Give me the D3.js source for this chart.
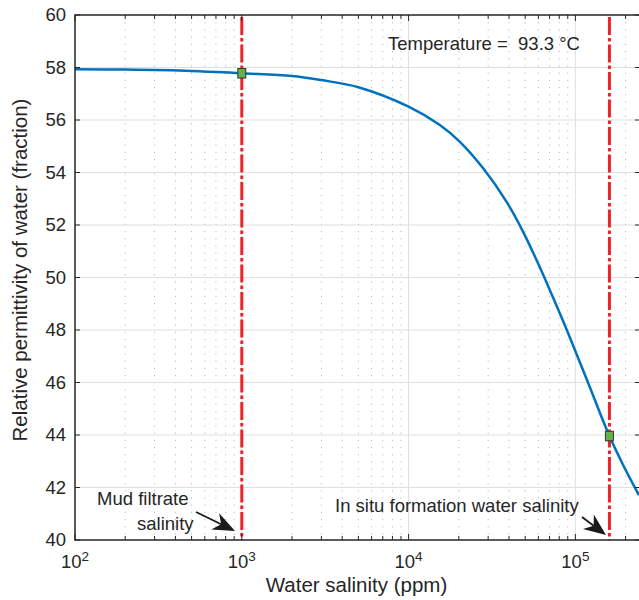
<!DOCTYPE html>
<html>
	<head>
		<title>Water permittivity vs salinity</title>
		<style>
			body, html {
				margin: 0;
				padding: 0;
				background: #fff;
			}
			text {
				font-family: "Liberation Sans", Arial, Helvetica, sans-serif;
				fill: #262626;
			}
			.grid-major {
				stroke: #dfdfdf;
				stroke-width: 1px;
			}
			.grid-minor {
				stroke: #b8b8b8;
				stroke-width: 1px;
				stroke-dasharray: 1.2, 6;
			}
			.axis-line {
				stroke: #262626;
				stroke-width: 1.5px;
				fill: none;
			}
		</style>
	</head>
	<body>

		<svg id="svg" width="639" height="600"></svg>

		<script src="https://d3js.org/d3.v7.min.js"></script>
		<script>
			// Data
			// salinity in ppm, relative permittivity at 93.3 °C
			const salinity = [100, 200, 500, 1000, 2000, 3000, 5000, 10000, 15400, 20300, 28000,
				38700, 48700, 61300, 72400, 89100, 119000, 160000, 193600, 240400]
			const permittivity = [57.93, 57.92, 57.87, 57.78, 57.68, 57.52, 57.25, 56.51, 55.81, 55.17, 54.16,
				52.88, 51.73, 50.38, 49.33, 47.98, 46.00, 43.96, 42.85, 41.71]

			// the two reference salinities (dashed red lines + green markers)
			const markerSalinity = [1000, 160000]
			const markerPermittivity = [57.78, 43.96]

			const xTicks = [1e2, 1e3, 1e4, 1e5]
			const yTicks = [40, 42, 44, 46, 48, 50, 52, 54, 56, 58, 60]
			const xDomain = [100, 244000]
			const yDomain = [40, 60]

			// plot box
			const boxL = 75, boxR = 640, boxT = 15, boxB = 540

			const x = d3.scaleLog().domain(xDomain).range([boxL, boxR])
			const y = d3.scaleLinear().domain(yDomain).range([boxB, boxT])

			const svg = d3.select('#svg')
			const g = svg.append('g')

			// minor ticks positions 2..9 x 10^k
			const minorTicks = []
			for (let k = 2; k <= 5; k++) {
				for (let m = 2; m <= 9; m++) {
					const v = m * Math.pow(10, k)
					if (v < xDomain[1]) minorTicks.push(v)
				}
			}

			// dotted minor grid
			g.selectAll('.grid-minor')
				.data(minorTicks)
				.enter().append('line')
				.attr('class', 'grid-minor')
				.attr('x1', d => x(d)).attr('x2', d => x(d))
				.attr('y1', boxT).attr('y2', boxB)

			// major grid
			g.selectAll('.grid-x')
				.data(xTicks.slice(1))
				.enter().append('line')
				.attr('class', 'grid-major')
				.attr('x1', d => x(d)).attr('x2', d => x(d))
				.attr('y1', boxT).attr('y2', boxB)

			g.selectAll('.grid-y')
				.data(yTicks.slice(1, -1))
				.enter().append('line')
				.attr('class', 'grid-major')
				.attr('x1', boxL).attr('x2', boxR)
				.attr('y1', d => y(d)).attr('y2', d => y(d))

			// red dash-dot lines at the two salinities
			g.selectAll('.ref')
				.data(markerSalinity)
				.enter().append('line')
				.attr('x1', d => x(d)).attr('x2', d => x(d))
				.attr('y1', boxT + 2).attr('y2', boxB)
				.style('stroke', '#ee2229')
				.style('stroke-width', 3)
				.style('stroke-dasharray', '18,3,3.5,3')

			// the curve
			const pts = salinity.map((s, i) => [s, permittivity[i]])
			const line = d3.line()
				.x(d => x(d[0]))
				.y(d => y(d[1]))
				.curve(d3.curveCatmullRom.alpha(0.5))

			g.append('path')
				.datum(pts)
				.attr('d', line)
				.style('fill', 'none')
				.style('stroke', '#0072bd')
				.style('stroke-width', 2.5)

			// green square markers
			g.selectAll('.marker')
				.data(markerSalinity.map((s, i) => [s, markerPermittivity[i]]))
				.enter().append('rect')
				.attr('x', d => x(d[0]) - 4)
				.attr('y', d => y(d[1]) - 4.75)
				.attr('width', 8)
				.attr('height', 9.5)
				.style('fill', '#62b347')
				.style('stroke', '#333')
				.style('stroke-width', 1)

			// axes box
			g.append('rect')
				.attr('class', 'axis-line')
				.attr('x', boxL).attr('y', boxT)
				.attr('width', boxR - boxL).attr('height', boxB - boxT)

			// ticks on all four sides, pointing in
			const tickGroup = g.append('g').style('stroke', '#262626').style('stroke-width', 1)
			xTicks.forEach(t => {
				tickGroup.append('line').attr('x1', x(t)).attr('x2', x(t)).attr('y1', boxB).attr('y2', boxB - 6)
				tickGroup.append('line').attr('x1', x(t)).attr('x2', x(t)).attr('y1', boxT).attr('y2', boxT + 6)
			})
			minorTicks.forEach(t => {
				tickGroup.append('line').attr('x1', x(t)).attr('x2', x(t)).attr('y1', boxB).attr('y2', boxB - 4)
				tickGroup.append('line').attr('x1', x(t)).attr('x2', x(t)).attr('y1', boxT).attr('y2', boxT + 4)
			})
			yTicks.forEach(t => {
				tickGroup.append('line').attr('x1', boxL).attr('x2', boxL + 5).attr('y1', y(t)).attr('y2', y(t))
				tickGroup.append('line').attr('x1', boxR).attr('x2', boxR - 5).attr('y1', y(t)).attr('y2', y(t))
			})

			// x tick labels, 10 with a superscript exponent
			const xLab = g.selectAll('.xlab')
				.data(xTicks)
				.enter().append('text')
				.attr('x', d => x(d))
				.attr('y', boxB + 28)
				.style('text-anchor', 'middle')
				.style('font-size', '18.5px')
			xLab.append('tspan').text('10')
			xLab.append('tspan')
				.attr('dy', -7)
				.style('font-size', '13.5px')
				.text(d => Math.round(Math.log10(d)))

			// y tick labels
			g.selectAll('.ylab')
				.data(yTicks)
				.enter().append('text')
				.attr('x', boxL - 9)
				.attr('y', d => y(d))
				.attr('dy', '0.35em')
				.style('text-anchor', 'end')
				.style('font-size', '18.5px')
				.text(d => d)

			// axis titles
			g.append('text')
				.attr('x', (boxL + boxR) / 2 - 1)
				.attr('y', 592)
				.style('text-anchor', 'middle')
				.style('font-size', '20.5px')
				.text('Water salinity (ppm)')

			g.append('text')
				.attr('transform', 'translate(27, 270) rotate(-90)')
				.style('text-anchor', 'middle')
				.style('font-size', '20.5px')
				.text('Relative permittivity of water (fraction)')

			// annotations
			g.append('text')
				.attr('x', 388).attr('y', 50)
				.style('font-size', '18.5px')
				.style('white-space', 'pre')
				.text('Temperature =  93.3 °C')

			g.append('text')
				.attr('x', 97).attr('y', 505)
				.style('font-size', '18.5px')
				.text('Mud filtrate')
			g.append('text')
				.attr('x', 137).attr('y', 530)
				.style('font-size', '18.5px')
				.text('salinity')

			g.append('text')
				.attr('x', 335).attr('y', 512)
				.style('font-size', '18.5px')
				.text('In situ formation water salinity')

			// arrows with a notched head
			function arrow(x1, y1, x2, y2) {
				const dx = x2 - x1, dy = y2 - y1
				const len = Math.hypot(dx, dy)
				const ux = dx / len, uy = dy / len
				const nx = -uy, ny = ux
				const L = 22, W = 9
				const notch = [x2 - ux * L * 0.7, y2 - uy * L * 0.7]
				g.append('line')
					.attr('x1', x1).attr('y1', y1)
					.attr('x2', notch[0]).attr('y2', notch[1])
					.style('stroke', '#1a1a1a')
					.style('stroke-width', 1.8)
				const head = [
					[x2, y2],
					[x2 - ux * L + nx * W, y2 - uy * L + ny * W],
					notch,
					[x2 - ux * L - nx * W, y2 - uy * L - ny * W]
				]
				g.append('path')
					.attr('d', 'M' + head.map(p => p.join(',')).join('L') + 'Z')
					.style('fill', '#1a1a1a')
			}
			arrow(196, 512, 235, 531)
			arrow(582, 517, 606, 535)
		</script>
	</body>
</html>
